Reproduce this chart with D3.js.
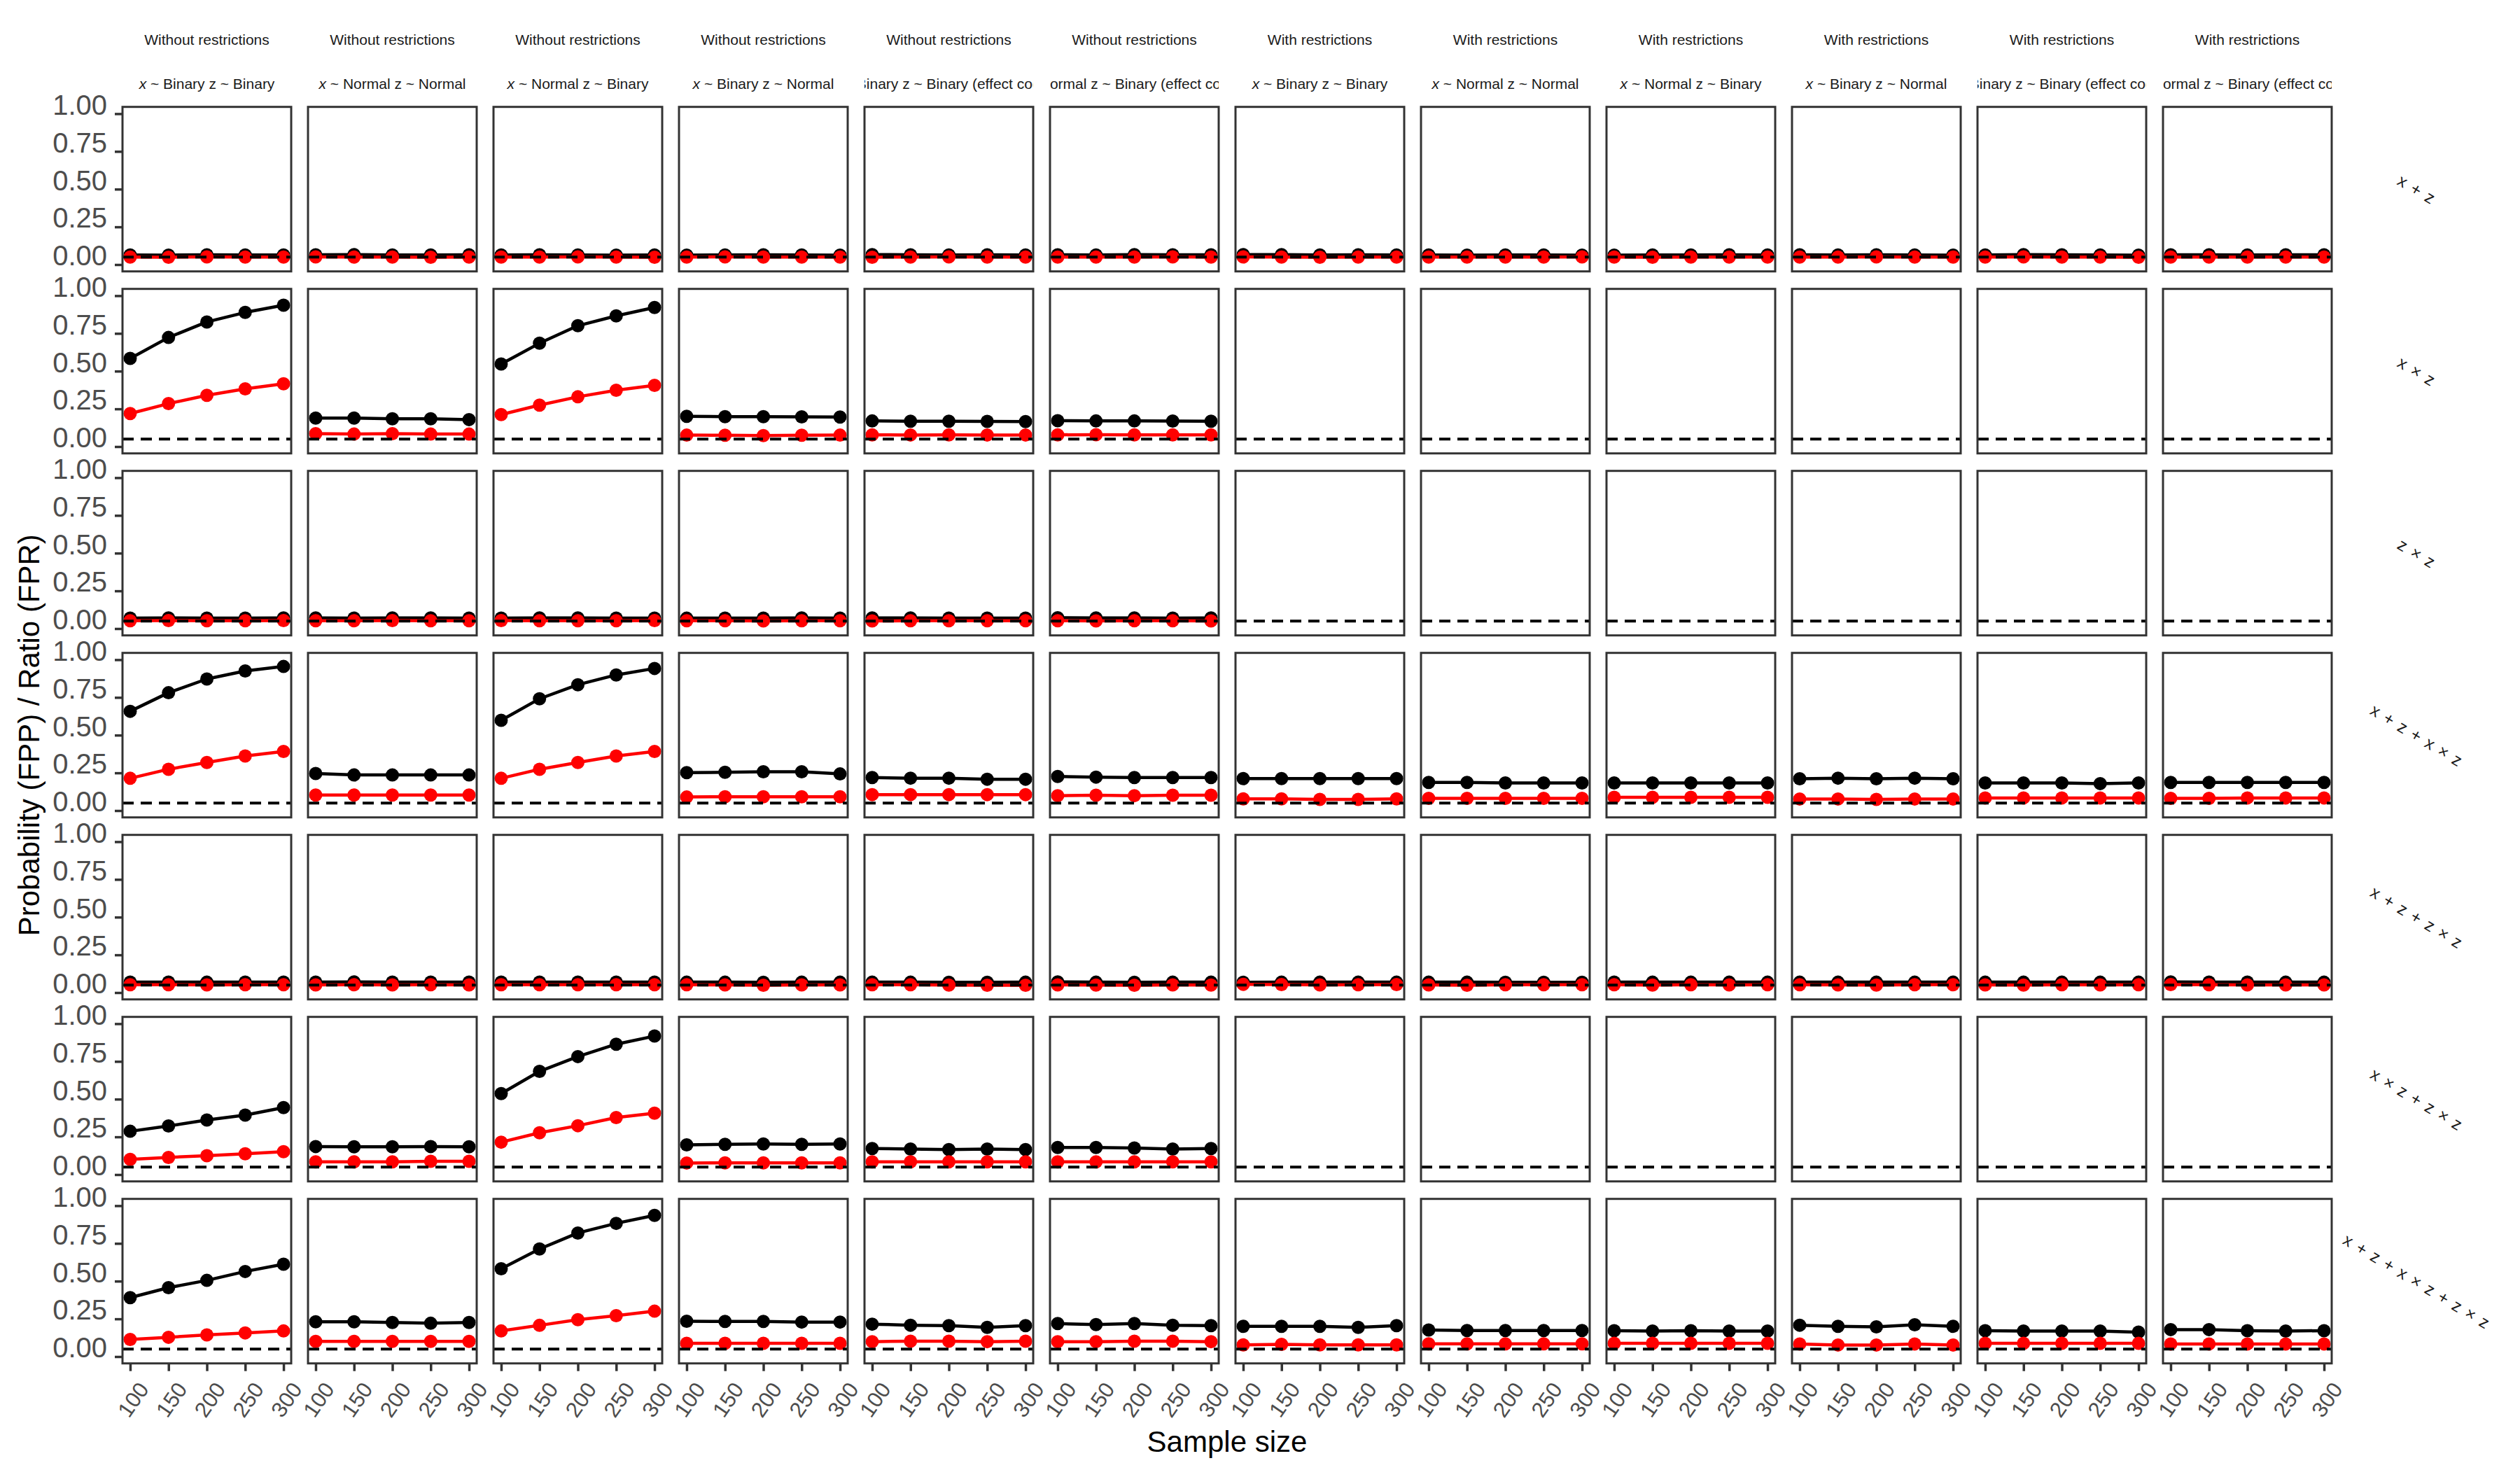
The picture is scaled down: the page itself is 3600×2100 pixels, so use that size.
<!DOCTYPE html>
<html>
<head>
<meta charset="utf-8">
<script src="https://cdn.jsdelivr.net/npm/d3@7"></script>
<style>
  html, body { margin: 0; padding: 0; background: #ffffff; }
  svg { display: block; }
</style>
</head>
<body>
<div id="chart"></div>
<script>
// ---------------- DATA ----------------
const sampleSizes = [100, 150, 200, 250, 300];
const xTickValues = [100, 150, 200, 250, 300];
const yTickValues = [0, 0.25, 0.5, 0.75, 1];
const referenceLevel = 0.05;

const restrictionLabels = [
  "Without restrictions", "Without restrictions", "Without restrictions",
  "Without restrictions", "Without restrictions", "Without restrictions",
  "With restrictions", "With restrictions", "With restrictions",
  "With restrictions", "With restrictions", "With restrictions"
];
const distributionLabels = [
  "x ~ Binary z ~ Binary", "x ~ Normal z ~ Normal", "x ~ Normal z ~ Binary",
  "x ~ Binary z ~ Normal", "x ~ Binary z ~ Binary (effect coding)", "x ~ Normal z ~ Binary (effect coding)",
  "x ~ Binary z ~ Binary", "x ~ Normal z ~ Normal", "x ~ Normal z ~ Binary",
  "x ~ Binary z ~ Normal", "x ~ Binary z ~ Binary (effect coding)", "x ~ Normal z ~ Binary (effect coding)"
];
const modelLabels = [
  "x + z", "x × z", "z × z", "x + z + x × z",
  "x + z + z × z", "x × z + z × z", "x + z + x × z + z × z"
];

// False positive probability (FPP) — black; rows = models, columns = scenarios
const fppValues = [
  [ // x + z
    [0.064,0.063,0.065,0.064,0.064],[0.065,0.066,0.064,0.064,0.065],[0.064,0.065,0.064,0.063,0.064],
    [0.063,0.064,0.065,0.064,0.063],[0.066,0.065,0.064,0.065,0.064],[0.065,0.064,0.066,0.065,0.065],
    [0.066,0.066,0.064,0.065,0.064],[0.064,0.063,0.064,0.064,0.063],[0.063,0.064,0.064,0.065,0.064],
    [0.065,0.064,0.065,0.064,0.063],[0.064,0.066,0.065,0.064,0.063],[0.065,0.065,0.064,0.065,0.065]
  ],
  [ // x × z
    [0.584,0.723,0.826,0.889,0.937],[0.189,0.189,0.184,0.184,0.179],[0.547,0.685,0.801,0.866,0.922],
    [0.201,0.198,0.198,0.197,0.196],[0.170,0.168,0.168,0.167,0.166],[0.172,0.170,0.170,0.169,0.168],
    null, null, null, null, null, null
  ],
  [ // z × z
    [0.070,0.071,0.070,0.070,0.071],[0.071,0.070,0.071,0.071,0.070],[0.070,0.071,0.071,0.070,0.070],
    [0.069,0.070,0.070,0.071,0.070],[0.071,0.071,0.070,0.070,0.070],[0.072,0.071,0.071,0.070,0.071],
    null, null, null, null, null, null
  ],
  [ // x + z + x × z
    [0.658,0.781,0.872,0.925,0.955],[0.246,0.236,0.236,0.236,0.236],[0.598,0.741,0.834,0.899,0.942],
    [0.252,0.254,0.257,0.257,0.243],[0.219,0.215,0.215,0.208,0.208],[0.226,0.222,0.219,0.219,0.219],
    [0.212,0.212,0.212,0.212,0.212],[0.187,0.187,0.183,0.183,0.183],[0.183,0.183,0.183,0.183,0.183],
    [0.211,0.215,0.211,0.215,0.211],[0.183,0.183,0.183,0.179,0.183],[0.187,0.187,0.187,0.187,0.187]
  ],
  [ // x + z + z × z
    [0.070,0.070,0.069,0.070,0.070],[0.070,0.071,0.070,0.070,0.070],[0.070,0.070,0.070,0.070,0.070],
    [0.069,0.069,0.068,0.069,0.069],[0.069,0.069,0.068,0.068,0.069],[0.071,0.069,0.068,0.069,0.069],
    [0.068,0.069,0.069,0.069,0.069],[0.069,0.069,0.068,0.068,0.068],[0.070,0.069,0.069,0.069,0.069],
    [0.069,0.069,0.069,0.069,0.069],[0.069,0.069,0.069,0.069,0.069],[0.071,0.070,0.070,0.069,0.069]
  ],
  [ // x × z + z × z
    [0.287,0.322,0.362,0.394,0.444],[0.186,0.184,0.184,0.186,0.184],[0.537,0.684,0.782,0.864,0.918],
    [0.197,0.201,0.203,0.201,0.203],[0.173,0.169,0.166,0.169,0.166],[0.180,0.180,0.176,0.169,0.173],
    null, null, null, null, null, null
  ],
  [ // x + z + x × z + z × z
    [0.391,0.457,0.505,0.564,0.612],[0.231,0.231,0.226,0.221,0.226],[0.582,0.713,0.819,0.883,0.936],
    [0.234,0.233,0.233,0.229,0.229],[0.215,0.208,0.205,0.194,0.205],[0.219,0.212,0.219,0.208,0.205],
    [0.201,0.201,0.201,0.194,0.205],[0.176,0.173,0.173,0.173,0.173],[0.172,0.169,0.172,0.169,0.169],
    [0.208,0.201,0.197,0.211,0.201],[0.172,0.169,0.169,0.169,0.162],[0.179,0.179,0.172,0.169,0.172]
  ]
];

// False positive ratio (FPR) — red
const fprValues = [
  [ // x + z
    [0.050,0.049,0.051,0.050,0.050],[0.051,0.050,0.050,0.049,0.050],[0.050,0.050,0.051,0.050,0.049],
    [0.050,0.051,0.050,0.050,0.050],[0.049,0.050,0.051,0.050,0.050],[0.050,0.050,0.050,0.051,0.050],
    [0.051,0.050,0.049,0.050,0.050],[0.050,0.050,0.050,0.050,0.051],[0.050,0.049,0.050,0.050,0.050],
    [0.050,0.050,0.051,0.050,0.050],[0.050,0.051,0.050,0.050,0.049],[0.050,0.050,0.050,0.050,0.050]
  ],
  [ // x × z
    [0.219,0.285,0.340,0.383,0.416],[0.086,0.083,0.086,0.083,0.083],[0.212,0.275,0.330,0.373,0.406],
    [0.076,0.075,0.073,0.075,0.076],[0.078,0.077,0.078,0.077,0.077],[0.078,0.079,0.078,0.078,0.078],
    null, null, null, null, null, null
  ],
  [ // z × z
    [0.052,0.053,0.052,0.052,0.053],[0.052,0.052,0.053,0.052,0.052],[0.053,0.052,0.052,0.052,0.053],
    [0.052,0.052,0.051,0.052,0.052],[0.051,0.052,0.052,0.052,0.052],[0.052,0.051,0.052,0.052,0.051],
    null, null, null, null, null, null
  ],
  [ // x + z + x × z
    [0.214,0.274,0.319,0.362,0.392],[0.103,0.103,0.103,0.103,0.103],[0.214,0.274,0.319,0.362,0.392],
    [0.090,0.092,0.092,0.092,0.092],[0.106,0.106,0.106,0.106,0.106],[0.099,0.102,0.099,0.102,0.102],
    [0.078,0.078,0.074,0.074,0.078],[0.081,0.081,0.081,0.081,0.081],[0.088,0.088,0.088,0.088,0.088],
    [0.077,0.077,0.074,0.077,0.077],[0.084,0.084,0.084,0.084,0.084],[0.081,0.081,0.084,0.084,0.084]
  ],
  [ // x + z + z × z
    [0.052,0.052,0.051,0.052,0.052],[0.051,0.052,0.051,0.052,0.051],[0.052,0.052,0.052,0.052,0.052],
    [0.052,0.051,0.049,0.051,0.051],[0.052,0.052,0.050,0.049,0.049],[0.051,0.050,0.049,0.051,0.050],
    [0.055,0.053,0.051,0.052,0.053],[0.051,0.049,0.052,0.052,0.052],[0.052,0.050,0.052,0.051,0.052],
    [0.052,0.051,0.050,0.052,0.052],[0.051,0.050,0.052,0.051,0.052],[0.053,0.052,0.051,0.051,0.051]
  ],
  [ // x × z + z × z
    [0.101,0.114,0.125,0.138,0.152],[0.085,0.085,0.085,0.088,0.088],[0.215,0.277,0.324,0.378,0.407],
    [0.077,0.078,0.078,0.078,0.078],[0.085,0.085,0.085,0.085,0.085],[0.085,0.085,0.085,0.085,0.085],
    null, null, null, null, null, null
  ],
  [ // x + z + x × z + z × z
    [0.114,0.128,0.144,0.157,0.170],[0.101,0.101,0.101,0.101,0.101],[0.170,0.207,0.245,0.271,0.301],
    [0.088,0.088,0.088,0.088,0.088],[0.099,0.102,0.102,0.099,0.102],[0.099,0.099,0.102,0.102,0.099],
    [0.078,0.081,0.078,0.078,0.078],[0.085,0.085,0.085,0.085,0.085],[0.088,0.088,0.088,0.088,0.088],
    [0.084,0.077,0.077,0.084,0.077],[0.088,0.088,0.088,0.088,0.088],[0.084,0.084,0.084,0.084,0.084]
  ]
];

// ---------------- LAYOUT ----------------
const W = 3600, H = 2100;
const FONT = "'Liberation Sans', Arial, Helvetica, sans-serif";
const gridLeft = 175, gridTop = 152.7;
const panelW = 241, panelH = 235;
const stepX = 265, stepY = 260;
const nRows = modelLabels.length, nCols = distributionLabels.length;

const svg = d3.select("#chart").append("svg")
  .attr("width", W).attr("height", H)
  .attr("viewBox", `0 0 ${W} ${H}`)
  .style("font-family", FONT);

svg.append("rect").attr("width", W).attr("height", H).attr("fill", "#ffffff");

const x = d3.scaleLinear().domain([90, 310]).range([0, panelW]);
const y = d3.scaleLinear().domain([-0.045, 1.045]).range([panelH, 0]);

const lineGen = d3.line().x((d, i) => x(sampleSizes[i])).y(d => y(d));

const defs = svg.append("defs");
for (let c = 0; c < nCols; c++) {
  defs.append("clipPath").attr("id", "stripclip" + c)
    .append("rect")
    .attr("x", gridLeft + c * stepX).attr("y", 0)
    .attr("width", panelW).attr("height", 150);
}

// Strip labels (top)
for (let c = 0; c < nCols; c++) {
  const left = gridLeft + c * stepX;
  const cx = left + panelW / 2;
  const sg = svg.append("g").attr("clip-path", `url(#stripclip${c})`);
  sg.append("text")
    .attr("x", cx).attr("y", 64)
    .attr("text-anchor", "middle")
    .attr("font-size", 21)
    .attr("fill", "#1A1A1A")
    .text(restrictionLabels[c]);

  // second strip line: centred full label, clipped to the panel width
  const lab = distributionLabels[c];
  const t = sg.append("text")
    .attr("x", cx).attr("y", 127)
    .attr("text-anchor", "middle")
    .attr("font-size", 21)
    .attr("fill", "#1A1A1A")
    .text(lab);
  const node = t.node();
  const fullW = node.getComputedTextLength();
  if (fullW > panelW) {
    const startX = cx - fullW / 2;
    const n = lab.length;
    let first = 0, last = n - 1;
    for (let i = 0; i < n; i++) {
      const ext = node.getExtentOfChar(i);
      if (ext.x + ext.width > left + 1) { first = i; break; }
    }
    for (let i = n - 1; i >= 0; i--) {
      const ext = node.getExtentOfChar(i);
      if (ext.x < left + panelW - 1) { last = i; break; }
    }
    const offs = node.getStartPositionOfChar(first).x;
    const sub = lab.slice(first, last + 1);
    t.text(null)
      .attr("text-anchor", "start")
      .attr("x", offs)
      .attr("xml:space", "preserve")
      .text(sub);
  } else {
    t.text(null).attr("xml:space", "preserve");
    t.append("tspan").attr("font-style", "italic").text(lab.slice(0, 1));
    t.append("tspan").text(lab.slice(1));
  }
}

// Row strip labels (right)
for (let r = 0; r < nRows; r++) {
  const cy = gridTop + r * stepY + panelH / 2;
  svg.append("text")
    .attr("transform", `translate(3452,${cy}) rotate(31)`)
    .attr("text-anchor", "middle")
    .attr("dominant-baseline", "central")
    .attr("font-size", 24)
    .attr("word-spacing", 3)
    .attr("fill", "#1A1A1A")
    .text(modelLabels[r]);
}

// Panels
for (let r = 0; r < nRows; r++) {
  for (let c = 0; c < nCols; c++) {
    const g = svg.append("g")
      .attr("transform", `translate(${gridLeft + c * stepX},${gridTop + r * stepY})`);
    g.append("rect").attr("width", panelW).attr("height", panelH).attr("fill", "#ffffff");

    const series = [
      { vals: fppValues[r][c], color: "#000000" },
      { vals: fprValues[r][c], color: "#FF0000" }
    ];
    series.forEach(s => {
      if (!s.vals) return;
      g.append("path")
        .datum(s.vals)
        .attr("d", lineGen)
        .attr("fill", "none")
        .attr("stroke", s.color)
        .attr("stroke-width", 4.5)
        .attr("stroke-linejoin", "round");
      g.selectAll(null)
        .data(s.vals)
        .enter().append("circle")
        .attr("cx", (d, i) => x(sampleSizes[i]))
        .attr("cy", d => y(d))
        .attr("r", 9.5)
        .attr("fill", s.color);
    });

    g.append("line")
      .attr("x1", 0).attr("x2", panelW)
      .attr("y1", y(referenceLevel)).attr("y2", y(referenceLevel))
      .attr("stroke", "#000000")
      .attr("stroke-width", 4)
      .attr("stroke-dasharray", "16,10");

    g.append("rect")
      .attr("width", panelW).attr("height", panelH)
      .attr("fill", "none")
      .attr("stroke", "#333333")
      .attr("stroke-width", 3);

    if (c === 0) {
      const ax = g.append("g").call(
        d3.axisLeft(y).tickValues(yTickValues).tickSize(11).tickPadding(11)
          .tickFormat(d3.format(".2f")));
      ax.select(".domain").remove();
      ax.selectAll(".tick line").attr("stroke", "#333333").attr("stroke-width", 3.5);
      ax.selectAll(".tick text")
        .attr("font-family", FONT)
        .attr("font-size", 40)
        .attr("fill", "#4D4D4D")
        .attr("dy", "0.02em");
    }
    if (r === nRows - 1) {
      const ax = g.append("g").attr("transform", `translate(0,${panelH})`).call(
        d3.axisBottom(x).tickValues(xTickValues).tickSize(11)
          .tickFormat(d3.format("d")));
      ax.select(".domain").remove();
      ax.selectAll(".tick line").attr("stroke", "#333333").attr("stroke-width", 3.5);
      ax.selectAll(".tick text")
        .attr("font-family", FONT)
        .attr("font-size", 31)
        .attr("fill", "#4D4D4D")
        .attr("y", null).attr("dy", null)
        .attr("text-anchor", "middle")
        .attr("dominant-baseline", "central")
        .attr("transform", "translate(4,52) rotate(-55)");
    }
  }
}

// Axis titles
const gridRight = gridLeft + (nCols - 1) * stepX + panelW;
const gridBottom = gridTop + (nRows - 1) * stepY + panelH;
svg.append("text")
  .attr("x", (gridLeft + gridRight) / 2).attr("y", 2074)
  .attr("text-anchor", "middle")
  .attr("font-size", 42)
  .attr("fill", "#000000")
  .text("Sample size");
svg.append("text")
  .attr("transform", `translate(41,${(gridTop + gridBottom) / 2}) rotate(-90)`)
  .attr("text-anchor", "middle")
  .attr("dominant-baseline", "central")
  .attr("font-size", 42)
  .attr("fill", "#000000")
  .text("Probability (FPP) / Ratio (FPR)");
</script>
</body>
</html>
